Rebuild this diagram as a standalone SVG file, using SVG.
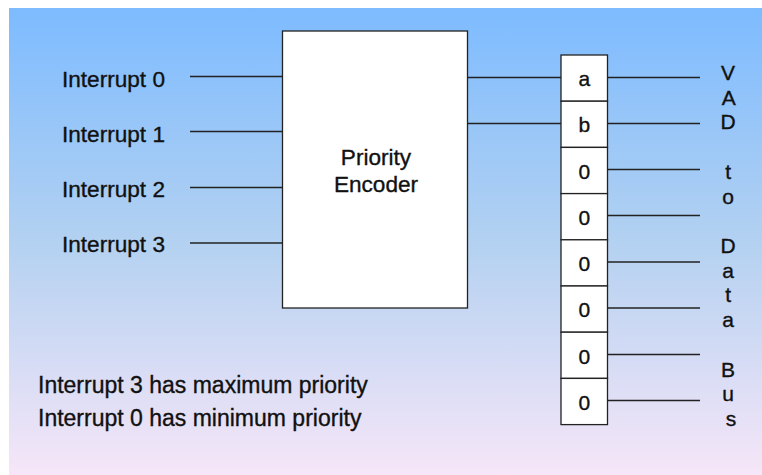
<svg xmlns="http://www.w3.org/2000/svg" width="762" height="475" viewBox="0 0 762 475">
<defs>
<linearGradient id="bg" x1="0" y1="0" x2="0" y2="1">
<stop offset="0" stop-color="#7dbbff"/>
<stop offset="0.5" stop-color="#b3d1f1"/>
<stop offset="1" stop-color="#f6e6f8"/>
</linearGradient>
<style>
.t{font-family:"Liberation Sans",Arial,sans-serif;fill:#111;stroke:#111;stroke-width:0.35;}
.lbl{font-size:22.6px;}
.note{font-size:23px;}
.cell{font-size:21px;text-anchor:middle;}
.box{fill:#fff;stroke:#222;stroke-width:1.3;}
.wire{stroke:#222;stroke-width:1.3;fill:none;}
</style>
</defs>
<rect x="0" y="0" width="762" height="475" fill="#fff"/>
<rect x="9" y="8" width="753" height="467" fill="url(#bg)"/>

<g id="connectors">
<line class="wire" x1="190" y1="76.5" x2="282.5" y2="76.5"/>
<line class="wire" x1="190" y1="131.5" x2="282.5" y2="131.5"/>
<line class="wire" x1="190" y1="187.5" x2="282.5" y2="187.5"/>
<line class="wire" x1="190" y1="243" x2="282.5" y2="243"/>
<line class="wire" x1="467.5" y1="77.5" x2="561" y2="77.5"/>
<line class="wire" x1="467.5" y1="123.5" x2="561" y2="123.5"/>
<line class="wire" x1="607.5" y1="77.5" x2="700" y2="77.5"/>
<line class="wire" x1="607.5" y1="123.5" x2="700" y2="123.5"/>
<line class="wire" x1="607.5" y1="169.5" x2="700" y2="169.5"/>
<line class="wire" x1="607.5" y1="215.5" x2="700" y2="215.5"/>
<line class="wire" x1="607.5" y1="262" x2="700" y2="262"/>
<line class="wire" x1="607.5" y1="308" x2="700" y2="308"/>
<line class="wire" x1="607.5" y1="354.5" x2="700" y2="354.5"/>
<line class="wire" x1="607.5" y1="400.5" x2="700" y2="400.5"/>
</g>

<g id="int0"><text class="t lbl" x="62" y="87">Interrupt 0</text></g>
<g id="int1"><text class="t lbl" x="62" y="142">Interrupt 1</text></g>
<g id="int2"><text class="t lbl" x="62" y="197">Interrupt 2</text></g>
<g id="int3"><text class="t lbl" x="62" y="252">Interrupt 3</text></g>

<g id="encoder">
<rect class="box" x="282.5" y="31" width="185" height="277"/>
<text class="t lbl" x="376" y="165" text-anchor="middle">Priority</text>
<text class="t lbl" x="376" y="192" text-anchor="middle">Encoder</text>
</g>

<g id="register">
<rect class="box" x="561" y="55" width="46.5" height="46.2"/>
<rect class="box" x="561" y="101.2" width="46.5" height="46.2"/>
<rect class="box" x="561" y="147.4" width="46.5" height="46.2"/>
<rect class="box" x="561" y="193.6" width="46.5" height="46.2"/>
<rect class="box" x="561" y="239.8" width="46.5" height="46.2"/>
<rect class="box" x="561" y="286" width="46.5" height="46.2"/>
<rect class="box" x="561" y="332.2" width="46.5" height="46.2"/>
<rect class="box" x="561" y="378.4" width="46.5" height="46.2"/>
<text class="t cell" x="584.3" y="85.5">a</text>
<text class="t cell" x="584.3" y="132">b</text>
<text class="t cell" x="584.3" y="178.7">0</text>
<text class="t cell" x="584.3" y="225">0</text>
<text class="t cell" x="584.3" y="271.2">0</text>
<text class="t cell" x="584.3" y="317.4">0</text>
<text class="t cell" x="584.3" y="363.6">0</text>
<text class="t cell" x="584.3" y="409.8">0</text>
</g>

<g id="bus-label">
<text class="t cell" x="731">
<tspan x="731" y="80">V</tspan>
<tspan x="731" y="104.7">A</tspan>
<tspan x="731" y="129.4">D</tspan>
<tspan x="731" y="178.8">t</tspan>
<tspan x="731" y="203.5">o</tspan>
<tspan x="731" y="253">D</tspan>
<tspan x="731" y="277.7">a</tspan>
<tspan x="731" y="302.4">t</tspan>
<tspan x="731" y="327">a</tspan>
<tspan x="731" y="376.5">B</tspan>
<tspan x="731" y="401.2">u</tspan>
<tspan x="731" y="426">s</tspan>
</text>
</g>

<g id="note">
<text class="t note" x="38" y="392.5">Interrupt 3 has maximum priority</text>
<text class="t note" x="38" y="426">Interrupt 0 has minimum priority</text>
</g>
</svg>
